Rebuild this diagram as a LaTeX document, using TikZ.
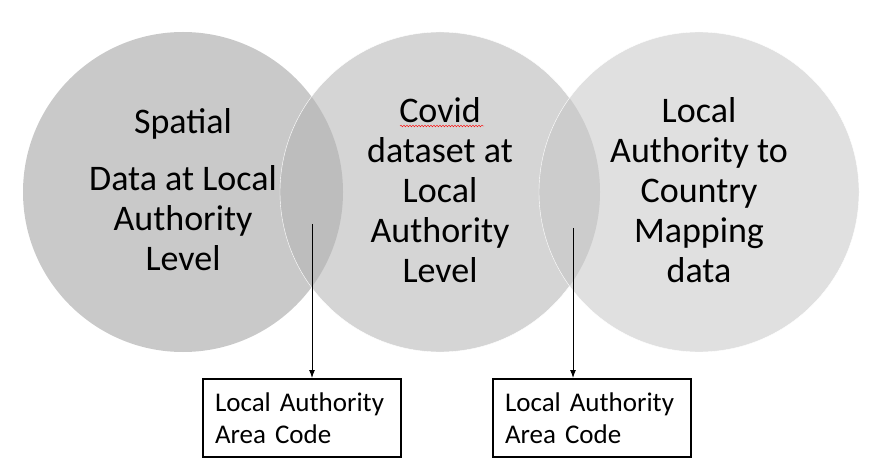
\documentclass[tikz,border=0pt]{standalone}
\usepackage{fontspec}
\setmainfont{Carlito}
\usetikzlibrary{decorations.pathmorphing,arrows.meta}
\definecolor{grayA}{RGB}{201,201,201}
\definecolor{grayB}{RGB}{213,213,213}
\definecolor{grayAB}{RGB}{189,189,189}
\definecolor{grayC}{RGB}{224,224,224}
\definecolor{grayBC}{RGB}{204,204,204}

\begin{document}
\begin{tikzpicture}[x=1pt,y=-1pt,
    blob/.style={circle,minimum size=320pt,inner sep=0pt},
    bigtext/.style={align=center,font=\fontsize{36}{40}\selectfont},
    codebox/.style={draw,line width=2pt,minimum width=198pt,minimum height=78pt,inner xsep=12pt,
        text width=174pt,align=left,font=\fontsize{27}{32}\selectfont}]
    \useasboundingbox (0,0) rectangle (872,470);
    % the three circles
    \node[blob,fill=grayA] (spatial) at (183,192) {};
    \node[blob,fill=grayB] (covid) at (440,192) {};
    \begin{scope}
        \clip (183,192) circle (160);
        \fill[grayAB] (440,192) circle (160);
    \end{scope}
    \draw[white,thin] (440,192) circle (160);
    \node[blob,fill=grayC] (lamap) at (699,192) {};
    \begin{scope}
        \clip (440,192) circle (160);
        \fill[grayBC] (699,192) circle (160);
    \end{scope}
    \draw[white,thin] (699,192) circle (160);
    % texts
    \node[bigtext] (spatialtxt) at (183,190) {Spatial\\[17pt]Data at Local\\Authority\\Level};
    \node[bigtext] (covidtxt) at (440,190) {Covid\\dataset at\\Local\\Authority\\Level};
    \node[bigtext] (lamaptxt) at (699,190) {Local\\Authority to\\Country\\Mapping\\data};
    \draw[red,thin,decorate,decoration={snake,segment length=3pt,amplitude=0.8pt}] (400,126) -- (484,126);
    % area code boxes
    \node[codebox] (codeA) at (302,418) {Local Authority\\Area Code};
    \node[codebox] (codeB) at (592,418) {Local Authority\\Area Code};
    \coordinate (overlapA) at (312,224);
    \coordinate (overlapB) at (573,228);
    \draw[-{Latex[length=8pt,width=6pt]},line width=1pt] (overlapA) -- (overlapA |- codeA.north);
    \draw[-{Latex[length=8pt,width=6pt]},line width=1pt] (overlapB) -- (overlapB |- codeB.north);
\end{tikzpicture}
\end{document}
